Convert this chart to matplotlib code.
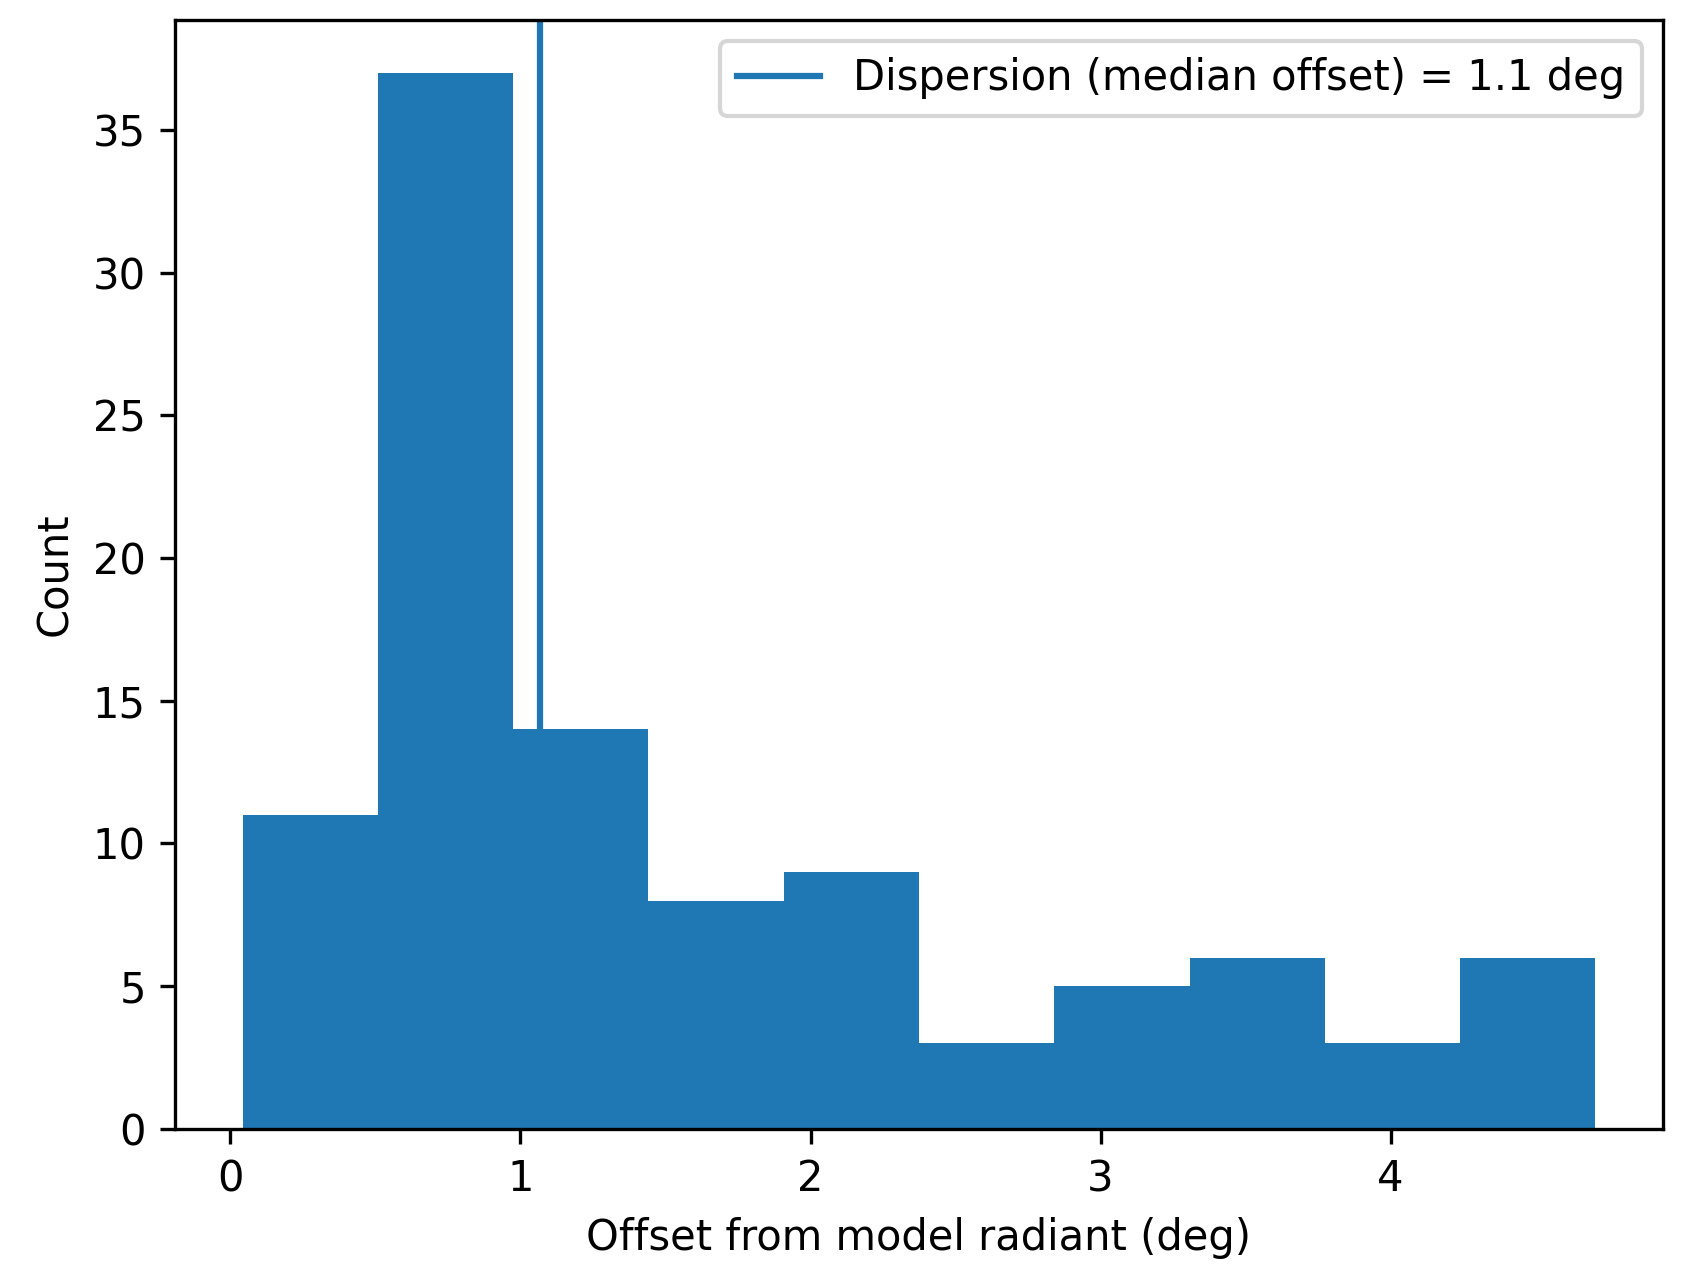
import matplotlib
matplotlib.use('Agg')
import matplotlib.pyplot as plt

# Histogram of offsets (bin edges and counts)
bin_edges = [0.042, 0.508, 0.975, 1.441, 1.908, 2.374, 2.840, 3.307, 3.773, 4.240, 4.706]
counts = [11, 37, 14, 8, 9, 3, 5, 6, 3, 6]
median_offset = 1.069

fig, ax = plt.subplots(figsize=(1689 / 300, 1287 / 300), dpi=300)
fig.subplots_adjust(left=0.1036, right=0.9846, top=0.9845, bottom=0.1228)

# one weighted entry per bin
ax.hist(bin_edges[:-1], bins=bin_edges, weights=counts)
ax.axvline(median_offset, label=f'Dispersion (median offset) = {median_offset:.1f} deg')

ax.set_xlabel('Offset from model radiant (deg)')
ax.set_ylabel('Count')
ax.legend(loc='upper right')

fig.savefig('out.png', dpi=300)
